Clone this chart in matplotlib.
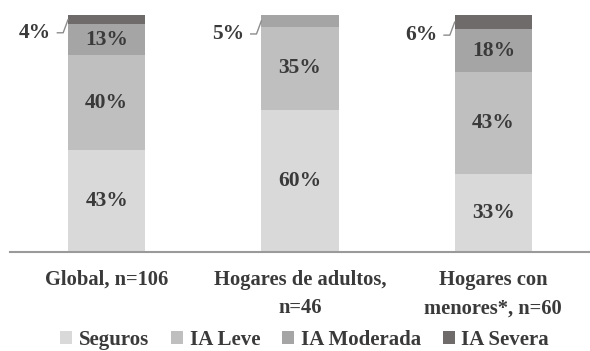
import matplotlib
matplotlib.use("Agg")
import matplotlib.pyplot as plt
import numpy as np

categories = ["Global, n=106", "Hogares de adultos,\nn=46", "Hogares con\nmenores*, n=60"]
series_names = ["Seguros", "IA Leve", "IA Moderada", "IA Severa"]
seguros = [43, 60, 33]
ia_leve = [40, 35, 43]
ia_moderada = [13, 5, 18]
ia_severa = [4, 0, 6]

colors = ["#d9d9d9", "#bfbfbf", "#a5a5a5", "#6f6b6b"]
text_color = "#3a3a3a"
font = "Liberation Serif"

fig = plt.figure(figsize=(5.9, 3.51), dpi=100)
ax = fig.add_axes([10 / 590, 99 / 351, 580 / 590, 237 / 351])

x = np.arange(len(categories))
width = 0.40
bottom = np.zeros(len(categories))
series = [seguros, ia_leve, ia_moderada, ia_severa]
for name, vals, col in zip(series_names, series, colors):
    vals = np.array(vals, dtype=float)
    ax.bar(x, vals, width, bottom=bottom, color=col, label=name, edgecolor="none")
    for i, v in enumerate(vals):
        if v >= 10:
            ax.text(x[i], bottom[i] + v / 2, f"{int(v)}%", ha="center", va="center",
                    fontsize=15.5, fontweight="bold", family=font, color=text_color)
    bottom += vals

# Small top segments labelled outside with a leader line
top_small = [ia_severa[0], ia_moderada[1], ia_severa[2]]
for i, v in enumerate(top_small):
    mid = 100 - v / 2
    lx = x[i] - 0.37
    ly = mid - 5.5
    ax.text(lx, ly, f"{int(v)}%", ha="center", va="center", fontsize=15.5,
            fontweight="bold", family=font, color=text_color)
    ax.plot([lx + 0.115, lx + 0.145, x[i] - width / 2], [ly, ly, mid],
            color="#8c8c8c", lw=1, clip_on=False)

ax.set_xlim(-0.5, 2.5)
ax.set_ylim(0, 100)
ax.set_yticks([])
for s in ["top", "right", "left"]:
    ax.spines[s].set_visible(False)
ax.spines["bottom"].set_color("#9a9a9a")
ax.spines["bottom"].set_linewidth(1.5)
ax.set_xticks(x)
ax.set_xticklabels(categories, fontsize=14.8, fontweight="bold", family=font,
                   color=text_color, linespacing=1.55)
ax.tick_params(axis="x", length=0, pad=13)

fig.legend(loc="center", ncol=4, frameon=False, bbox_to_anchor=(0.516, 1 - 340 / 351),
           prop={"family": font, "weight": "bold", "size": 15},
           handlelength=0.6, handleheight=0.6, handletextpad=0.3, columnspacing=1.05,
           borderpad=0, labelcolor=text_color)

fig.savefig("out.png", dpi=100)
